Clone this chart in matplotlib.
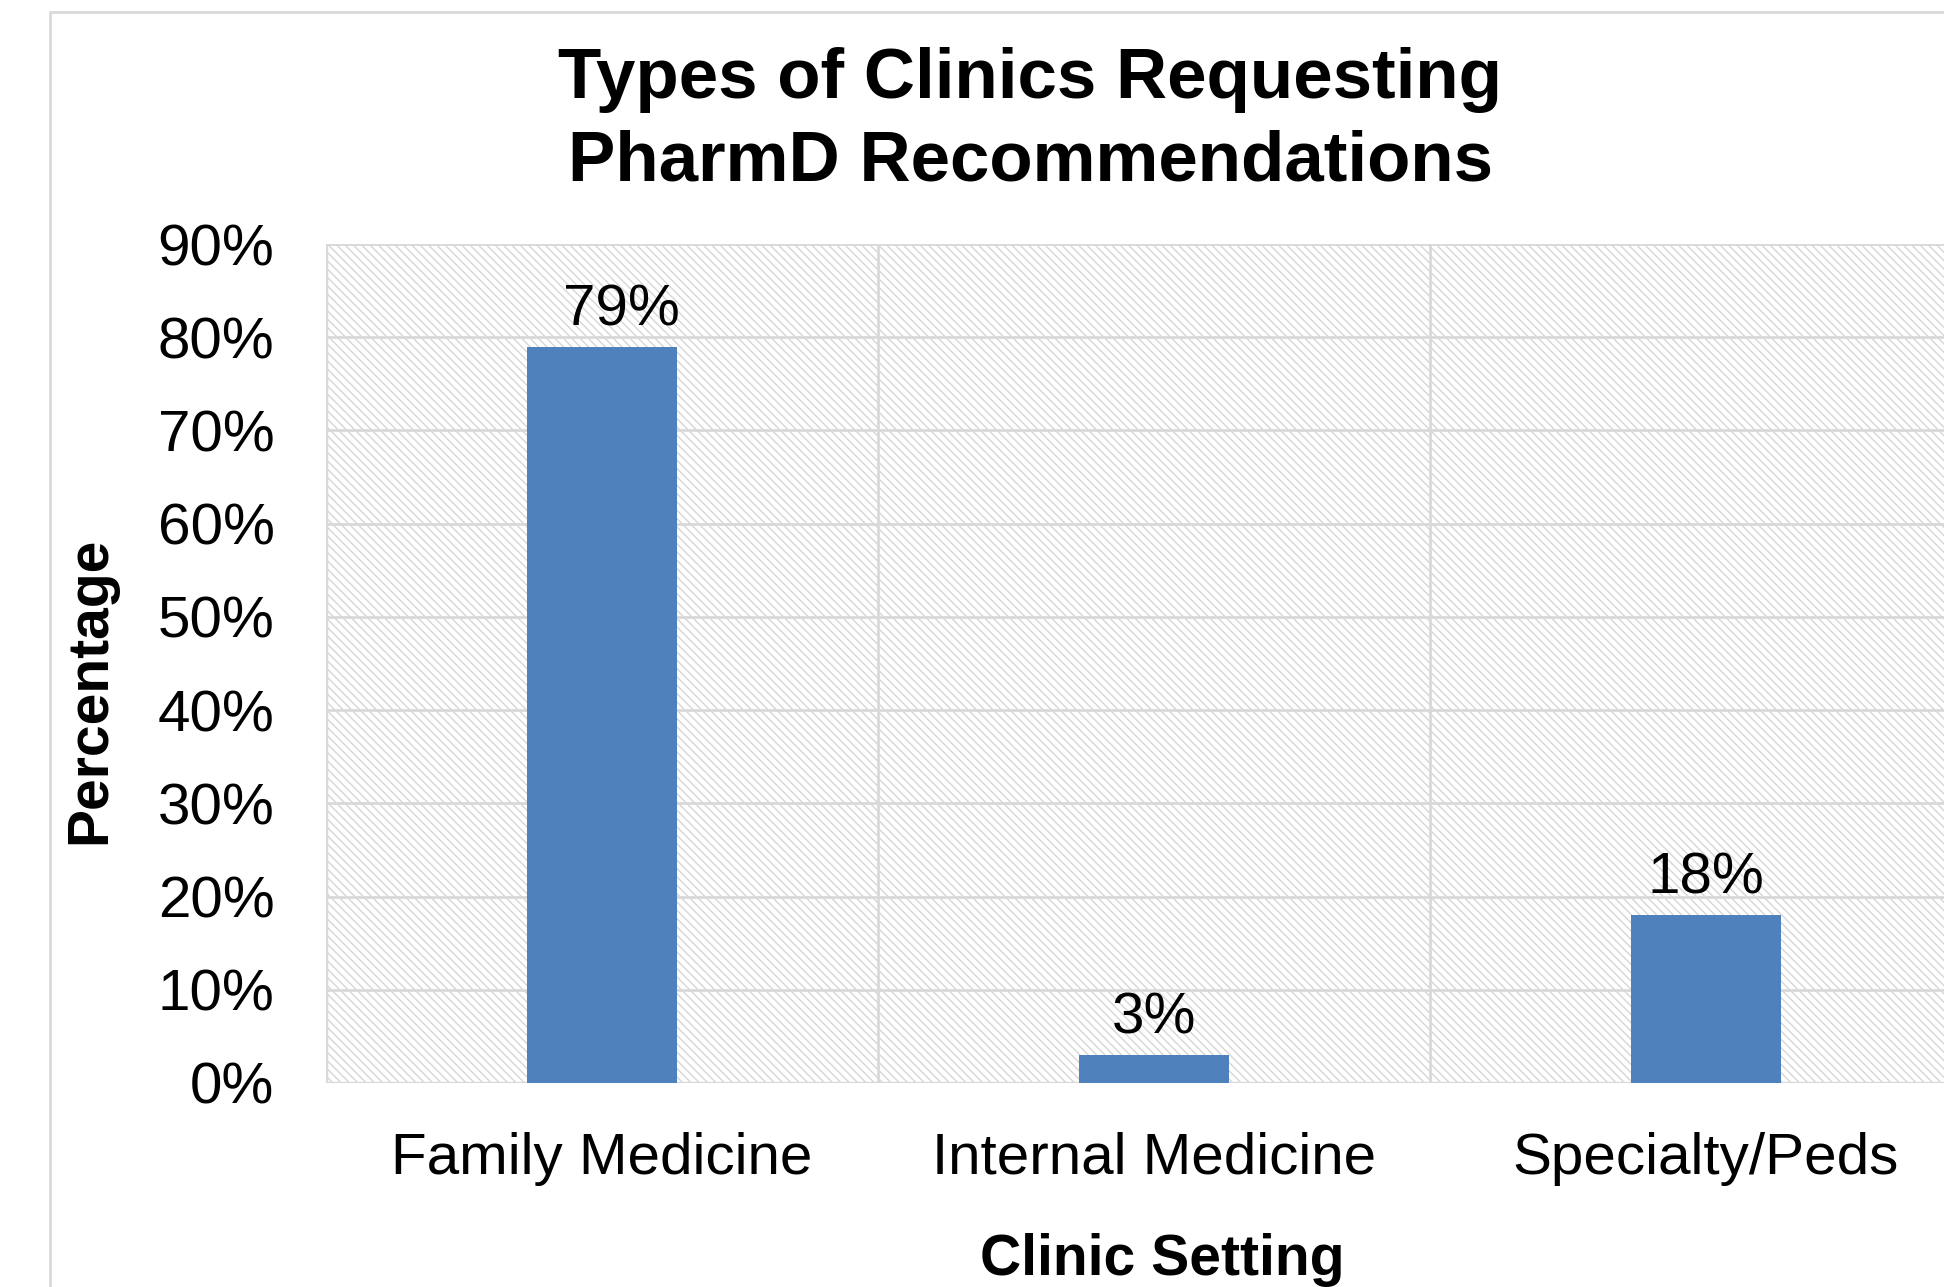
import matplotlib
matplotlib.use("Agg")
import matplotlib.pyplot as plt
from matplotlib.patches import Rectangle
from matplotlib.ticker import FuncFormatter, MultipleLocator

categories = ["Family Medicine", "Internal Medicine", "Specialty/Peds"]
values = [79, 3, 18]
labels = ["79%", "3%", "18%"]
title = "Types of Clinics Requesting\nPharmD Recommendations"
xlabel = "Clinic Setting"
ylabel = "Percentage"

plt.rcParams['font.family'] = ['Liberation Sans', 'DejaVu Sans']
plt.rcParams['hatch.color'] = '#d6d6d6'
plt.rcParams['hatch.linewidth'] = 1.0

fig = plt.figure(figsize=(19.44, 12.87), dpi=100)
# chart border
fig.patches.append(Rectangle((50/1944, -0.1), 2.0, 1 - 12/1287 + 0.1,
                             transform=fig.transFigure, fill=False,
                             edgecolor='#d9d9d9', linewidth=2))

ax = fig.add_axes([326/1944, 1 - 1083/1287, (1982 - 326)/1944, (1083 - 244)/1287])
ax.set_xlim(-0.5, 2.5)
ax.set_ylim(0, 90)

# hatched background
ax.add_patch(Rectangle((0, 0), 1, 1, transform=ax.transAxes, facecolor='white',
                       edgecolor='#d6d6d6', hatch='\\\\\\\\', linewidth=0, zorder=0))

for y in range(10, 91, 10):
    ax.axhline(y, color='#d9d9d9', linewidth=2, zorder=1)
for x in [0.5, 1.5]:
    ax.axvline(x, color='#d9d9d9', linewidth=2, zorder=1)
ax.axhline(0, color='#d9d9d9', linewidth=2.5, zorder=1)
ax.axvline(-0.5, color='#d9d9d9', linewidth=2.5, zorder=1)

xs = list(range(len(categories)))
ax.bar(xs, values, width=0.272, color='#4f81bd', zorder=3)
label_dx = [0.035, 0, 0]
for x, v, l, dx in zip(xs, values, labels, label_dx):
    ax.text(x + dx, v + 2.3, l, ha='center', va='baseline', fontsize=42, color='black', zorder=4)

for s in ax.spines.values():
    s.set_visible(False)
ax.set_xticks(xs)
ax.set_xticklabels(categories, fontsize=42)
ax.yaxis.set_major_locator(MultipleLocator(10))
ax.yaxis.set_major_formatter(FuncFormatter(lambda v, p: f"{int(v)}%"))
ax.tick_params(axis='y', labelsize=42, length=0, pad=37)
ax.tick_params(axis='x', length=0, pad=35)

fig.text(1030/1944, 1 - 121/1287, title, ha='center', va='center', fontsize=51,
         fontweight='bold', linespacing=1.32)
fig.text(90/1944, 1 - 690/1287, ylabel, ha='center', va='center', rotation=90,
         fontsize=41, fontweight='bold')
fig.text(1162/1944, 1 - 1260/1287, xlabel, ha='center', va='center',
         fontsize=41, fontweight='bold')

fig.savefig("out.png", dpi=100)
